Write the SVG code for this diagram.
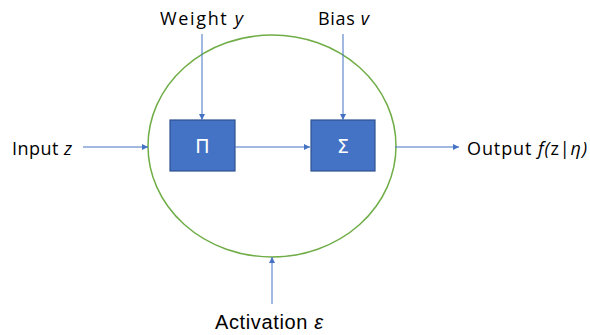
<svg xmlns="http://www.w3.org/2000/svg" width="590" height="335" viewBox="0 0 590 335">
<style>
.lbl{font-family:"Open Sans","Liberation Sans",sans-serif;font-size:18px;fill:#000}
.it{font-style:italic}
.box{fill:#4472c4;stroke:#2f528f;stroke-width:1.2}
.sym{font-family:"DejaVu Sans","Liberation Sans",sans-serif;font-size:19px;fill:#fff;text-anchor:middle}
.conn line{stroke:#4472c4;stroke-width:1}
</style>
<defs>
<marker id="ah" viewBox="0 0 10 10" refX="10" refY="5" markerWidth="6" markerHeight="6" orient="auto" markerUnits="userSpaceOnUse">
<path d="M0,0 L10,5 L0,10 z" fill="#4472c4"/>
</marker>
</defs>
<rect width="590" height="335" fill="#fff"/>
<g id="neuron"><ellipse cx="272" cy="146" rx="124" ry="111" fill="none" stroke="#70ad47" stroke-width="1.5"/></g>
<g id="mult"><rect class="box" x="170" y="120" width="65" height="51"/><text class="sym" x="202.5" y="153">Π</text></g>
<g id="sum"><rect class="box" x="311" y="120" width="64" height="51"/><text class="sym" x="343" y="153">Σ</text></g>
<g id="weight"><text class="lbl" x="160" y="25" textLength="83">Weight <tspan class="it">y</tspan></text></g>
<g id="bias"><text class="lbl" x="318" y="25" textLength="51">Bias <tspan class="it">v</tspan></text></g>
<g id="input"><text class="lbl" x="12" y="155" textLength="60">Input <tspan class="it">z</tspan></text></g>
<g id="output"><text class="lbl" x="467" y="155" textLength="120">Output <tspan class="it">f(</tspan>z|<tspan class="it">η)</tspan></text></g>
<g id="activation"><text class="lbl" x="215" y="329" textLength="108" style="font-family:'Liberation Sans',sans-serif;font-size:20px">Activation <tspan class="it">ε</tspan></text></g>
<g class="conn" id="connectors">
<line x1="83" y1="147" x2="148" y2="147" marker-end="url(#ah)"/>
<line x1="202" y1="34" x2="202" y2="120" marker-end="url(#ah)"/>
<line x1="343" y1="34" x2="343" y2="120" marker-end="url(#ah)"/>
<line x1="235" y1="147" x2="310" y2="147" marker-end="url(#ah)"/>
<line x1="395" y1="147" x2="459" y2="147" marker-end="url(#ah)"/>
<line x1="272" y1="304" x2="272" y2="257" marker-end="url(#ah)"/>
</g>
</svg>
